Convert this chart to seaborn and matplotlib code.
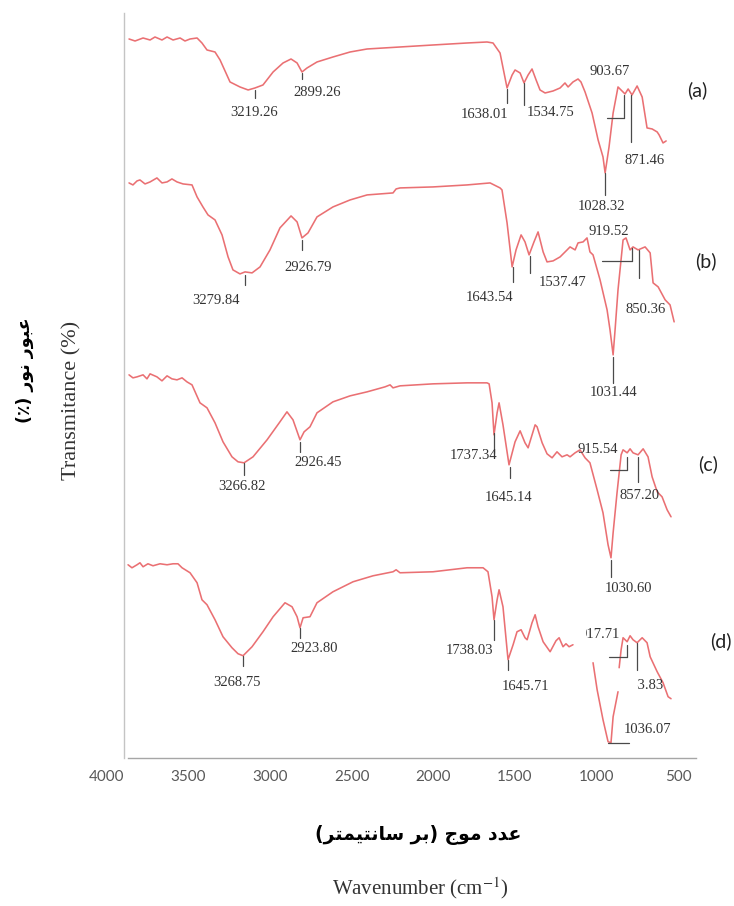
import numpy as np
import pandas as pd
import matplotlib
matplotlib.use("Agg")
import matplotlib.pyplot as plt
import seaborn as sns
from matplotlib.patches import Rectangle

sns.set_theme(style="white")
plt.rcParams["font.family"] = ["DejaVu Sans"]
plt.rcParams["mathtext.fontset"] = "stix"

# ---------------- data (wavenumber cm-1, offset transmittance a.u.) ----------------
wn_a = [3865, 3828, 3779, 3736, 3706, 3663, 3632, 3595, 3552, 3522, 3491, 3448, 3418, 3387,
        3338, 3307, 3246, 3185, 3135, 3093, 3044, 2982, 2921, 2872, 2835, 2805, 2774, 2713,
        2615, 2510, 2406, 2204, 2002, 1793, 1671, 1634, 1591, 1548, 1517, 1499, 1468, 1444,
        1419, 1395, 1370, 1346, 1315, 1266, 1223, 1193, 1174, 1144, 1113, 1095, 1070, 1027,
        990, 960, 947, 923, 898, 868, 825, 806, 782, 751, 720, 690, 659, 628, 616, 592, 573]
t_a = [719, 717, 720, 718, 721, 718, 721, 718, 720, 717, 719, 720, 715, 708,
       706, 698, 676, 671, 668, 670, 673, 686, 695, 699, 695, 686, 690, 696,
       701, 706, 709, 711, 713, 715, 716, 715, 705, 670, 683, 688, 685, 675,
       683, 689, 678, 668, 665, 667, 670, 675, 671, 676, 679, 676, 666, 645,
       618, 601, 585, 611, 645, 671, 664, 669, 663, 672, 661, 630, 629, 626, 623, 615, 617]

wn_b = [3865, 3841, 3816, 3798, 3767, 3736, 3694, 3663, 3632, 3602, 3571, 3534, 3479, 3448,
        3412, 3381, 3338, 3295, 3258, 3228, 3185, 3154, 3111, 3062, 3001, 2940, 2872, 2835,
        2805, 2768, 2713, 2615, 2510, 2406, 2247, 2228, 2204, 2002, 1793, 1652, 1591, 1579,
        1548, 1517, 1493, 1462, 1438, 1413, 1383, 1358, 1327, 1303, 1266, 1223, 1180, 1162,
        1131, 1113, 1082, 1058, 1040, 1021, 978, 935, 917, 898, 886, 868, 837, 819, 794, 776,
        745, 702, 671, 653, 622, 579, 549, 524]
t_b = [575, 573, 577, 578, 574, 576, 580, 575, 576, 579, 576, 574, 573, 561,
       551, 543, 538, 523, 501, 488, 484, 486, 485, 491, 508, 530, 542, 536,
       520, 525, 541, 551, 558, 563, 565, 569, 570, 571, 573, 575, 570, 568,
       535, 491, 508, 523, 516, 503, 516, 526, 506, 496, 497, 501, 508, 511,
       508, 515, 516, 520, 506, 503, 478, 448, 428, 403, 428, 468, 518, 520, 508, 511,
       508, 511, 505, 475, 471, 458, 453, 436]

wn_c = [3865, 3841, 3816, 3779, 3755, 3736, 3694, 3663, 3632, 3602, 3571, 3540, 3510, 3479,
        3430, 3387, 3338, 3289, 3234, 3197, 3160, 3105, 3019, 2940, 2897, 2860, 2817, 2792,
        2756, 2713, 2615, 2510, 2406, 2296, 2265, 2247, 2204, 2002, 1793, 1671, 1658, 1640,
        1628, 1609, 1597, 1573, 1536, 1499, 1468, 1438, 1419, 1376, 1364, 1333, 1303, 1272,
        1242, 1211, 1180, 1162, 1131, 1101, 1070, 1040, 996, 960, 929, 911, 898, 874, 849,
        837, 812, 794, 776, 745, 714, 684, 659, 628, 598, 567, 543]
t_c = [383, 380, 381, 383, 379, 384, 381, 377, 382, 379, 378, 380, 376, 373,
       355, 350, 335, 316, 301, 296, 295, 301, 318, 336, 346, 338, 318, 326,
       331, 345, 356, 362, 366, 371, 373, 370, 372, 374, 375, 375, 374, 355,
       323, 345, 355, 333, 293, 316, 327, 315, 310, 333, 331, 315, 304, 300,
       306, 301, 303, 301, 305, 308, 300, 295, 268, 245, 213, 200, 225, 265, 303,
       308, 305, 309, 305, 303, 309, 301, 281, 266, 261, 248, 241]

# NaN marks the breaks in the printed trace (d)
wn_d = [3871, 3847, 3816, 3798, 3779, 3749, 3718, 3675, 3632, 3595, 3565, 3540, 3491, 3448,
        3418, 3387, 3338, 3289, 3234, 3197, 3166, 3111, 3044, 2982, 2909, 2866, 2835, 2817,
        2798, 2756, 2713, 2615, 2492, 2369, 2247, 2228, 2204, 2002, 1793, 1695, 1665, 1640,
        1628, 1609, 1597, 1573, 1542, 1511, 1487, 1462, 1438, 1425, 1395, 1376, 1358, 1327,
        1284, 1248, 1229, 1205, 1187, 1168, 1144, np.nan,
        1021, 996, 960, 929, 911, 898, 874, 868, np.nan,
        861, 849, 837, 812, 794, 776, 751, 720, 690, 671, 628, 592, 561, 543]
t_d = [193, 190, 193, 195, 191, 194, 192, 194, 193, 194, 194, 190, 185, 175,
       158, 153, 138, 121, 110, 104, 102, 111, 126, 141, 155, 151, 141, 130,
       140, 141, 155, 166, 176, 182, 186, 188, 185, 186, 190, 190, 186, 161,
       138, 158, 168, 151, 98, 113, 126, 128, 120, 118, 135, 143, 131, 116,
       106, 117, 120, 111, 114, 111, 113, np.nan,
       95, 68, 38, 16, 15, 41, 61, 66, np.nan,
       90, 108, 120, 116, 122, 118, 115, 120, 115, 101, 86, 75, 61, 59]

series_names = ["(a)", "(b)", "(c)", "(d)"]
tick_values = [4000, 3500, 3000, 2500, 2000, 1500, 1000, 500]

peak_labels = {
    "(a)": ["3219.26", "2899.26", "1638.01", "1534.75", "903.67", "871.46", "1028.32"],
    "(b)": ["3279.84", "2926.79", "1643.54", "1537.47", "919.52", "850.36", "1031.44"],
    "(c)": ["3266.82", "2926.45", "1737.34", "1645.14", "915.54", "857.20", "1030.60"],
    "(d)": ["3268.75", "2923.80", "1738.03", "1645.71", "917.71", "863.83", "1036.07"],
}

# ---------------- layout of annotations (positions in axis units) ----------------
label_pos = {
    "(a)": [(3099, 645), (2713, 665), (1689, 643), (1284, 645), (917, 686), (708, 597), (972, 551)],
    "(b)": [(3332, 457), (2768, 490), (1658, 460), (1211, 475), (923, 526), (696, 448), (898, 365)],
    "(c)": [(3172, 271), (2707, 295), (1756, 302), (1542, 260), (990, 308), (733, 262), (806, 169)],
    "(d)": [(3203, 75), (2731, 109), (1775, 107), (1432, 71), (978, 123), (708, 72), (690, 28)],
}
# (x0, y0, x1, y1) marker segments
marker_segs = {
    "(a)": [(3093, 668, 3093, 660), (2805, 685, 2805, 679), (1548, 669, 1548, 655),
            (1444, 675, 1444, 653), (788, 663, 788, 616), (947, 585, 947, 563),
            (935, 640, 831, 640), (831, 640, 831, 663)],
    "(b)": [(3154, 483, 3154, 473), (2805, 518, 2805, 508), (1511, 491, 1511, 476),
            (1407, 502, 1407, 485), (739, 508, 739, 480), (898, 401, 898, 375),
            (966, 497, 782, 497), (782, 497, 782, 510)],
    "(c)": [(3160, 295, 3160, 283), (2817, 316, 2817, 306), (1628, 325, 1628, 305),
            (1530, 291, 1530, 280), (745, 301, 745, 276), (911, 198, 911, 181),
            (917, 288, 812, 288), (812, 288, 812, 301)],
    "(d)": [(3166, 102, 3166, 92), (2817, 130, 2817, 120), (1628, 138, 1628, 118),
            (1542, 98, 1542, 88), (751, 115, 751, 88), (923, 101, 812, 101),
            (812, 101, 812, 113), (929, 15, 800, 15)],
}
name_pos = {"(a)": (383, 668), "(b)": (328, 497), "(c)": (316, 294), "(d)": (236, 117)}

line_color = "#ea7073"
mark_color = "#4a4a4a"

fig = plt.figure(figsize=(7.34, 9.06), dpi=100)
ax = fig.add_axes([107 / 734, 148.3 / 906, 589 / 734, 744.7 / 906])

spectra = {"(a)": (wn_a, t_a), "(b)": (wn_b, t_b), "(c)": (wn_c, t_c), "(d)": (wn_d, t_d)}
for name in series_names:
    wn, tr = spectra[name]
    df = pd.DataFrame({"wn": wn, "T": tr})
    seg = df["wn"].isna().cumsum()
    for _, part in df.dropna().groupby(seg[df["wn"].notna()]):
        sns.lineplot(data=part, x="wn", y="T", ax=ax, sort=False, estimator=None,
                     color=line_color, lw=1.15)
    for (x0, y0, x1, y1) in marker_segs[name]:
        ax.plot([x0, x1], [y0, y1], color=mark_color, lw=0.9)
    for txt, (tx, ty) in zip(peak_labels[name], label_pos[name]):
        ax.text(tx, ty, txt, ha="center", va="center", fontsize=10.5,
                family=["Liberation Serif"], color="#333333", zorder=3)
    nx, ny = name_pos[name]
    ax.text(nx, ny, name, ha="center", va="center", fontsize=14,
            family=["Lato", "DejaVu Sans"], color="#222222", clip_on=False)

# partial occlusion seen in the printed figure (d)
ax.add_patch(Rectangle((1064, 113), 55, 20, facecolor="white", edgecolor="none", zorder=4))
ax.add_patch(Rectangle((752, 62), 105, 19, facecolor="white", edgecolor="none", zorder=4))

ax.set_xlim(4000, 390)
ax.set_ylim(0, 745)
ax.set_xlabel("")
ax.set_ylabel("")
ax.set_yticks([])
ax.set_xticks(tick_values)
ax.set_xticklabels([str(v) for v in tick_values], fontsize=11,
                   family=["Lato", "DejaVu Sans"], color="#595959")
ax.set_xticks(tick_values[1:], minor=True)
ax.tick_params(axis="x", which="major", length=0, pad=9)
ax.tick_params(axis="x", which="minor", length=4, width=1, color="#a6a6a6", direction="out", bottom=True)
for s in ["top", "right"]:
    ax.spines[s].set_visible(False)
ax.spines["left"].set_position(("data", 3896))
ax.spines["left"].set_color("#c4c4c4")
ax.spines["left"].set_linewidth(1)
ax.spines["bottom"].set_bounds(3871, 390)
ax.spines["bottom"].set_color("#a6a6a6")
ax.spines["bottom"].set_linewidth(1)
ax.grid(False)
ax.set_facecolor("white")
fig.patch.set_facecolor("white")

ylab_ar = "(\u066A) \uFEAD\uFEEE\uFEE7 \uFEAD\uFEEE\uFE92\uFECB"
xlab_ar = ("(\uFEAE\uFE98\uFEE4\uFEF4\uFE98\uFEE7\uFE8E\uFEB3 \uFEAE\uFE91) "
           "\uFE9D\uFEEE\uFEE3 \uFEA9\uFEAA\uFECB")

fig.text(72 / 734, 1 - 400 / 906, "Transmitance (%)", rotation=90, ha="center", va="center",
         fontsize=16, family=["Liberation Serif"], color="#333333")
fig.text(25 / 734, 1 - 370 / 906, ylab_ar, rotation=90, ha="center", va="center",
         fontsize=12.5, fontweight="bold", family=["DejaVu Sans"], color="black")
fig.text(418 / 734, 1 - 835 / 906, xlab_ar, ha="center", va="center",
         fontsize=13.5, fontweight="bold", family=["DejaVu Sans"], color="black")
fig.text(420 / 734, 1 - 888 / 906, "Wavenumber (cm$^{-1}$)", ha="center", va="center",
         fontsize=15, family=["Liberation Serif"], color="#333333")

fig.savefig("out.png", dpi=100, facecolor="white")
